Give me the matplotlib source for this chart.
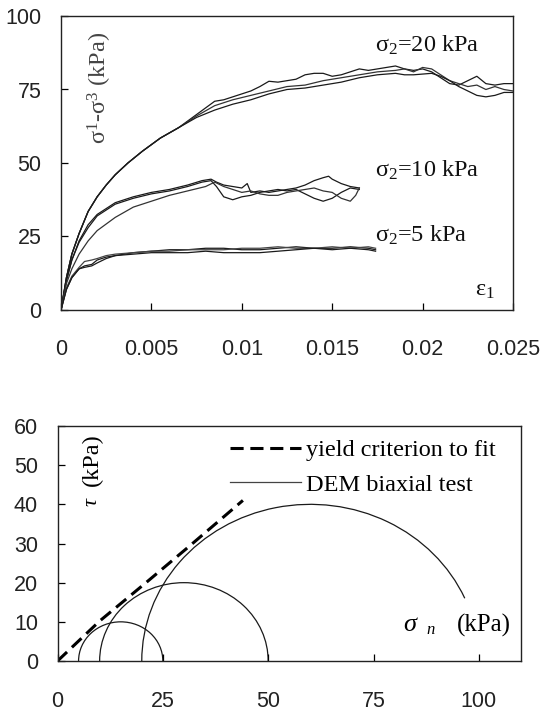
import numpy as np
import matplotlib
matplotlib.use("Agg")
import matplotlib.pyplot as plt
from matplotlib.patches import Arc
from matplotlib.lines import Line2D

plt.rcParams['mathtext.fontset'] = 'custom'
plt.rcParams['mathtext.rm'] = 'Liberation Serif'
plt.rcParams['mathtext.it'] = 'Liberation Serif:italic'
plt.rcParams['font.family'] = ['Liberation Serif', 'DejaVu Serif']

# ---------------- top chart data: deviator stress vs axial strain ----------------
eps_20a = [0, 0.0003, 0.0006, 0.001, 0.0015, 0.002, 0.0025, 0.003, 0.0037, 0.0045, 0.0055, 0.0065,
           0.0075, 0.0085, 0.009, 0.0095, 0.0105, 0.011, 0.0115, 0.012, 0.0125, 0.013, 0.0135, 0.014,
           0.0145, 0.015, 0.0155, 0.016, 0.0165, 0.017, 0.0175, 0.018, 0.0185, 0.019, 0.0195, 0.02,
           0.0205, 0.021, 0.0215, 0.022, 0.0225, 0.023, 0.0235, 0.024, 0.0245, 0.025]
q_20a = [0, 11, 19, 26, 33.5, 38.5, 42.5, 46, 50, 54, 58.5, 62,
         66.5, 71, 71.5, 72.5, 74.5, 76, 77.8, 77.5, 78, 78.5, 80, 80.5,
         80.5, 79.5, 80, 81, 82, 81.5, 82, 82.5, 83, 82, 81.5, 82,
         81, 79, 77, 76.5, 78, 79.5, 77, 76.5, 77, 77]
eps_20b = [0, 0.0003, 0.0006, 0.001, 0.0015, 0.002, 0.0025, 0.003, 0.0037, 0.0045, 0.0055, 0.0065,
           0.0075, 0.0085, 0.0095, 0.0105, 0.0115, 0.0125, 0.0135, 0.0145, 0.0155, 0.0165, 0.0175,
           0.0185, 0.019, 0.0195, 0.02, 0.0205, 0.021, 0.0215, 0.022, 0.0225, 0.023, 0.0235, 0.024,
           0.0245, 0.025]
q_20b = [0, 11, 19, 26, 33.5, 38.5, 42.5, 46, 50, 54, 58.5, 62,
         66, 69.5, 71.5, 73, 74.5, 76, 76.5, 78, 79, 80, 81,
         81.5, 82, 81, 82.5, 82, 80, 78, 77, 76, 76.5, 75, 76,
         75, 74.5]
eps_20c = [0, 0.0003, 0.0006, 0.001, 0.0015, 0.002, 0.0025, 0.003, 0.0037, 0.0045, 0.0055, 0.0065,
           0.0075, 0.0085, 0.0095, 0.0105, 0.0115, 0.0125, 0.0135, 0.0145, 0.0155, 0.0165, 0.0175,
           0.0185, 0.019, 0.0195, 0.0205, 0.021, 0.0215, 0.022, 0.0225, 0.023, 0.0235, 0.024, 0.0245,
           0.025]
q_20c = [0, 11, 19, 26, 33.5, 38.5, 42.5, 46, 50, 54, 58.5, 62,
         65.5, 68, 70, 71.5, 73.5, 75, 75.5, 76.5, 77.5, 79, 80,
         80.5, 80, 80, 80.5, 79.5, 78, 76, 74.5, 73, 72.5, 73, 74,
         74]

eps_10a = [0, 0.0003, 0.0006, 0.001, 0.0015, 0.002, 0.0025, 0.003, 0.004, 0.005, 0.006, 0.007, 0.0078,
           0.0083, 0.0086, 0.009, 0.0095, 0.01, 0.0103, 0.0105, 0.011, 0.0115, 0.012, 0.0125, 0.013,
           0.0135, 0.014, 0.0145, 0.0148, 0.015, 0.0155, 0.016, 0.0165]
q_10a = [0, 10, 17, 23.5, 29, 32.5, 34.5, 36.5, 38.5, 40, 41, 42.5, 44,
         44.5, 43.5, 42.5, 42, 41.5, 43, 40, 40.5, 40, 40.5, 41, 41.5,
         42.5, 44, 45, 45.5, 44.5, 43, 42, 41.5]
eps_10b = [0, 0.0003, 0.0006, 0.001, 0.0015, 0.002, 0.0025, 0.003, 0.004, 0.005, 0.006, 0.007, 0.0078,
           0.0083, 0.0086, 0.009, 0.0095, 0.01, 0.0105, 0.011, 0.0115, 0.012, 0.0125, 0.013,
           0.0135, 0.014, 0.0145, 0.015, 0.0155, 0.016, 0.0165]
q_10b = [0, 10, 17, 23, 28, 32, 34, 36, 38, 39.5, 40.5, 42, 43.5,
         44, 42, 38.5, 37.5, 38.5, 39, 40, 40.5, 41, 40.5, 41,
         39.5, 38, 37, 38, 40, 41.5, 41]
eps_10c = [0, 0.0003, 0.0006, 0.001, 0.0015, 0.002, 0.003, 0.004, 0.005, 0.006, 0.007, 0.008, 0.0085,
           0.009, 0.0095, 0.01, 0.0105, 0.011, 0.0115, 0.012, 0.0125, 0.013, 0.0135, 0.014, 0.0145,
           0.015, 0.0155, 0.016, 0.0163, 0.0165]
q_10c = [0, 9, 14, 19, 23.5, 27, 31.5, 35, 37, 39, 40.5, 42, 43.5,
         42, 41, 40, 40.5, 39.5, 39, 39, 40, 40.5, 41, 41.5, 40.5,
         40, 38, 37, 39, 41.5]

eps_5a = [0, 0.0003, 0.0006, 0.001, 0.0013, 0.0017, 0.002, 0.0025, 0.003, 0.004, 0.005, 0.006, 0.007,
          0.008, 0.009, 0.01, 0.011, 0.012, 0.013, 0.014, 0.015, 0.016, 0.017, 0.0174]
q_5a = [0, 7, 11, 14, 15, 15.5, 17, 18, 18.5, 19.5, 20, 20.5, 20.5,
        21, 21, 20.5, 20.5, 21, 21.5, 21, 21, 21.5, 21, 20.5]
eps_5b = [0, 0.0003, 0.0006, 0.001, 0.0013, 0.0017, 0.002, 0.0025, 0.003, 0.004, 0.005, 0.006, 0.007,
          0.008, 0.009, 0.01, 0.011, 0.012, 0.013, 0.014, 0.015, 0.016, 0.017, 0.0174]
q_5b = [0, 7.5, 11.5, 14.5, 16.5, 17, 17.5, 18.5, 19, 19.5, 20, 20, 20.5,
        20.5, 20.5, 21, 21, 21.5, 21, 21, 21.5, 21, 21.5, 21]
eps_5c = [0, 0.0003, 0.0006, 0.001, 0.0013, 0.0017, 0.002, 0.0025, 0.003, 0.004, 0.005, 0.006, 0.007,
          0.008, 0.009, 0.01, 0.011, 0.012, 0.013, 0.014, 0.015, 0.016, 0.017, 0.0174]
q_5c = [0, 7, 11, 14, 14.5, 15, 16, 17.5, 18.5, 19, 19.5, 19.5, 19.5,
        20, 19.5, 19.5, 19.5, 20, 20.5, 21, 20.5, 21, 20.5, 20]

top_xticks = [0, 0.005, 0.01, 0.015, 0.02, 0.025]
top_xticklabels = ['0', '0.005', '0.01', '0.015', '0.02', '0.025']
top_yticks = [0, 25, 50, 75, 100]

# ---------------- bottom chart data: Mohr circles ----------------
sigma3 = [5, 10, 20]
sigma1 = [25, 50, 100]
arc_start_deg = [0, 0, 23.6]
yield_sn = [0, 10, 21, 31.5, 44]
yield_tau = [0, 10.2, 20, 29.5, 41]
bot_xticks = [0, 25, 50, 75, 100]
bot_yticks = [0, 10, 20, 30, 40, 50, 60]

W, H = 542, 713
fig = plt.figure(figsize=(W / 100, H / 100), dpi=100)
ax1 = fig.add_axes([61 / W, 1 - 310 / H, 452 / W, 294 / H])
ax2 = fig.add_axes([57.5 / W, 1 - 661 / H, 463.5 / W, 235 / H])

for e, q, c in [(eps_20a, q_20a, '#1a1a1a'), (eps_20b, q_20b, '#333333'), (eps_20c, q_20c, '#1a1a1a'),
                (eps_10a, q_10a, '#1a1a1a'), (eps_10b, q_10b, '#1a1a1a'), (eps_10c, q_10c, '#333333'),
                (eps_5a, q_5a, '#1a1a1a'), (eps_5b, q_5b, '#444444'), (eps_5c, q_5c, '#1a1a1a')]:
    ax1.plot(e, q, color=c, lw=0.9)

ax1.set_xlim(0, 0.025)
ax1.set_ylim(0, 100)
ax1.set_xticks(top_xticks)
ax1.set_xticklabels(top_xticklabels)
ax1.set_yticks(top_yticks)

txt = dict(fontsize=17.5, va='center', ha='left', color='#111111')
ax1.text(0.01734, 90.1, r'$\mathrm{\sigma_2}$=20 kPa', **txt)
ax1.text(0.01734, 47.5, r'$\mathrm{\sigma_2}$=10 kPa', **txt)
ax1.text(0.01734, 25.3, r'$\mathrm{\sigma_2}$=5 kPa', **txt)
ax1.text(0.0229, 6.6, r'$\mathrm{\varepsilon_1}$', **txt)
ax1.text(0.00218, 75.5, r'$\mathrm{\sigma^1}$-$\mathrm{\sigma^3}$ (kPa)', fontsize=17.5,
         rotation=90, ha='center', va='center', color='#444444')

# bottom
for s3, s1, a0 in zip(sigma3, sigma1, arc_start_deg):
    c = (s1 + s3) / 2.0
    d = (s1 - s3)
    ax2.add_patch(Arc((c, 0), d, d, theta1=a0, theta2=180, color='#1a1a1a', lw=0.9))
ax2.plot(yield_sn, yield_tau, color='black', lw=2.2, linestyle=(0, (4.3, 2.2)))

ax2.set_xlim(0, 110)
ax2.set_ylim(0, 60)
ax2.set_xticks(bot_xticks)
ax2.set_yticks(bot_yticks)

handles = [Line2D([], [], color='black', lw=2.2, linestyle=(0, (4.3, 2.2))),
           Line2D([], [], color='#444444', lw=0.9)]
ax2.legend(handles, ['yield criterion to fit', 'DEM biaxial test'], loc='upper left',
           bbox_to_anchor=(0.373, 0.943), frameon=False, borderpad=0, borderaxespad=0,
           handlelength=2.9, handletextpad=0.2, labelspacing=0.5, fontsize=17.5)

ax2.text(8.2, 40.5, 'τ', fontsize=16, rotation=90, ha='center', va='center', fontstyle='italic')
ax2.text(8.2, 51.5, '(kPa)', fontsize=17.5, rotation=90, ha='center', va='center')
ax2.text(83.5, 9.2, 'σ', fontsize=19, fontstyle='italic', ha='center', va='center')
ax2.text(88.6, 7.8, 'n', fontsize=12, fontstyle='italic', ha='center', va='center')
ax2.text(101.2, 9.2, '(kPa)', fontsize=18, ha='center', va='center')

for ax, xpad in ((ax1, 21), (ax2, 21.5)):
    for s in ax.spines.values():
        s.set_linewidth(1.0)
        s.set_color('#222222')
    ax.tick_params(direction='in', length=5, width=0.9, top=False, right=False)
    ax.tick_params(axis='x', pad=xpad)
    ax.tick_params(axis='y', pad=14)
    for lab in ax.get_xticklabels() + ax.get_yticklabels():
        lab.set_fontfamily('Liberation Sans')
        lab.set_fontsize(15.5)
        lab.set_color('#222222')

fig.savefig('out.png', dpi=100)
